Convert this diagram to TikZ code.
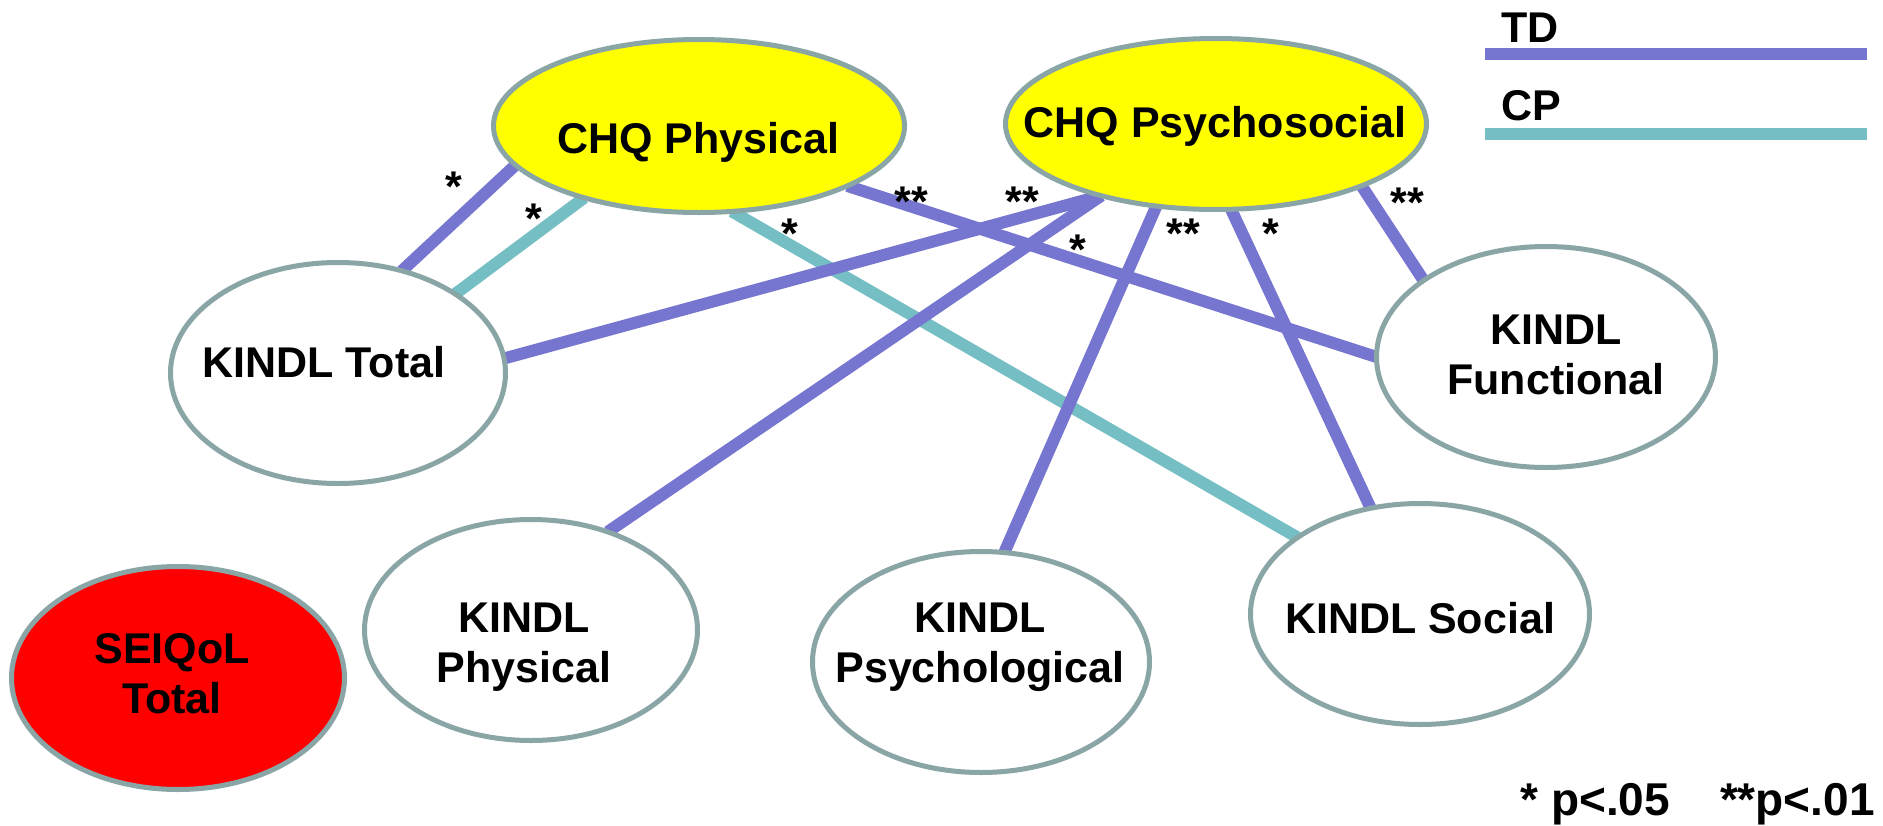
\documentclass[tikz,border=0pt]{standalone}
\usepackage{fontspec}
\setmainfont{Liberation Sans}
\usetikzlibrary{shapes.geometric,backgrounds}
\definecolor{tdc}{RGB}{118,117,208}
\definecolor{cpc}{RGB}{116,190,196}
\definecolor{bordc}{RGB}{138,165,166}
\definecolor{chqy}{RGB}{255,255,0}
\definecolor{seired}{RGB}{255,0,0}
\tikzset{
  ell/.style={ellipse, draw=bordc, line width=5pt, fill=white, inner sep=0pt, outer sep=0pt},
  lbl/.style={font=\fontsize{43}{50}\selectfont\bfseries, inner sep=0pt, align=center},
  sig/.style={font=\fontsize{43}{50}\selectfont\bfseries, inner sep=0pt, anchor=north},
  tdl/.style={draw=tdc, line width=12pt},
  cpl/.style={draw=cpc, line width=12pt},
}
\begin{document}
\begin{tikzpicture}[x=1pt,y=-1pt]
\useasboundingbox (0,0) rectangle (1883,825);
% ellipses
\node[ell, fill=chqy, minimum width=411pt, minimum height=173pt] (cp) at (699,126) {};
\node[ell, fill=chqy, minimum width=421pt, minimum height=171pt] (cs) at (1216,124) {};
\node[ell, minimum width=335pt, minimum height=221pt] (kt) at (338,373) {};
\node[ell, minimum width=339pt, minimum height=221pt] (kf) at (1546,357) {};
\node[ell, minimum width=333pt, minimum height=221pt] (kp) at (531,630) {};
\node[ell, minimum width=337pt, minimum height=221pt] (kps) at (981,662) {};
\node[ell, minimum width=339pt, minimum height=221pt] (ks) at (1420,614) {};
\node[ell, fill=seired, minimum width=333pt, minimum height=223pt] (se) at (178,678) {};
% texts
\node[lbl, anchor=base] (cptxt) at (698,153) {CHQ Physical};
\node[lbl, anchor=base] (cstxt) at (1215,137) {CHQ Psychosocial};
\node[lbl, anchor=base] (kttxt) at (324,377) {KINDL Total};
\node[lbl, anchor=base] (kstxt) at (1420,633) {KINDL Social};
\node[lbl, anchor=north] (kftxt) at (1556,315) {KINDL\\Functional};
\node[lbl, anchor=north] (kptxt) at (524,603) {KINDL\\Physical};
\node[lbl, anchor=north] (kpstxt) at (980,603) {KINDL\\Psychological};
\node[lbl, anchor=north] (setxt) at (172,633) {SEIQoL\\Total};
% connectors
\begin{scope}[on background layer]
\fill[white] (0,0) rectangle (1883,825);
\draw[tdl] (cp.192) -- (kt.58);
\draw[cpl] (cp.212) -- (kt.34);
\draw[cpl] (cp.291) -- (ks.148);
\draw[tdl] (cp.338) -- (kf.180);
\draw[tdl] (kt.5) -- (cs.212);
\draw[tdl] (kp.52) -- (cs.212);
\draw[tdl] (cs.234) -- (kps.78);
\draw[tdl] (cs.280) -- (ks.115);
\draw[tdl] (cs.337) -- (kf.148);
\end{scope}
% significance marks
\node[sig] (s1) at (454,172) {*};
\node[sig] (s2) at (534,204) {*};
\node[sig] (s3) at (790,219) {*};
\node[sig] (s4) at (911,187) {**};
\node[sig] (s5) at (1022,187) {**};
\node[sig] (s6) at (1078,235) {*};
\node[sig] (s7) at (1183,219) {**};
\node[sig] (s8) at (1271,219) {*};
\node[sig] (s9) at (1407,188) {**};
% legend
\node[lbl, anchor=base west] (legtd) at (1501,42) {TD};
\coordinate (tda) at (1485,54);
\coordinate (tdb) at (1867,54);
\draw[tdl] (tda) -- (tdb);
\node[lbl, anchor=base west] (legcp) at (1501,120) {CP};
\coordinate (cpa) at (1485,133.5);
\coordinate (cpb) at (1867,133.5);
\draw[cpl] (cpa) -- (cpb);
% footnote
\node[lbl, anchor=base east, font=\fontsize{46}{50}\selectfont\bfseries] (foot) at (1875,815) {* p<.05\hspace{50pt}**p<.01};
\end{tikzpicture}
\end{document}
